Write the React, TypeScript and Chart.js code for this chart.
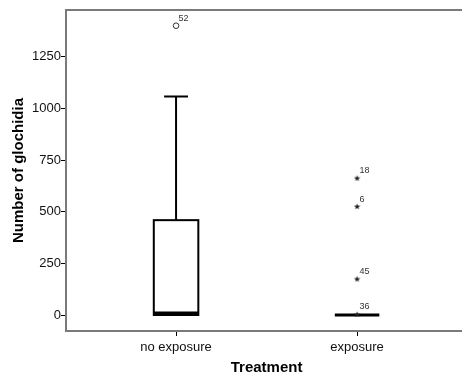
import React, { useEffect, useRef } from "react";
import { Chart, registerables } from "chart.js";

Chart.register(...registerables);

// ---- data ----
const categories = ["no exposure", "exposure"];
const whiskerLow = [0, 0];
const boxQ1 = [0, 0];
const boxMedian = [10, 0];
const boxQ3 = [459, 0];
const whiskerHigh = [1058, 0];

// outliers (circles) for "no exposure"
const outlierValues = [1400];
const outlierIds = ["52"];
// extremes (stars) for "exposure"
const extremeValues = [662, 525, 174, 3];
const extremeIds = ["18", "6", "45", "36"];

const yTicks = [0, 250, 500, 750, 1000, 1250];

const xTitle = "Treatment";
const yTitle = "Number of glochidia";

const FONT = "'Liberation Sans', Arial, sans-serif";

function makeStar(): HTMLCanvasElement {
  const c = document.createElement("canvas");
  c.width = 7;
  c.height = 7;
  const ctx = c.getContext("2d")!;
  ctx.fillStyle = "#222";
  ctx.beginPath();
  const cx = 3.5, cy = 3.7, ro = 3.3, ri = 1.4;
  for (let i = 0; i < 10; i++) {
    const r = i % 2 === 0 ? ro : ri;
    const a = -Math.PI / 2 + (i * Math.PI) / 5;
    const x = cx + r * Math.cos(a);
    const y = cy + r * Math.sin(a);
    if (i === 0) ctx.moveTo(x, y);
    else ctx.lineTo(x, y);
  }
  ctx.closePath();
  ctx.fill();
  return c;
}

const boxPlugin = {
  id: "boxPlugin",
  beforeDatasetsDraw(chart: any) {
    const { ctx, scales } = chart;
    const xs = scales.x;
    const ys = scales.y;
    const halfBox = 0.123;
    const halfCap = 0.066;
    ctx.save();
    categories.forEach((_, i) => {
      const xc = xs.getPixelForValue(i + 1);
      const xl = xs.getPixelForValue(i + 1 - halfBox);
      const xr = xs.getPixelForValue(i + 1 + halfBox);
      const cl = xs.getPixelForValue(i + 1 - halfCap);
      const cr = xs.getPixelForValue(i + 1 + halfCap);
      const yq1 = ys.getPixelForValue(boxQ1[i]);
      const yq3 = ys.getPixelForValue(boxQ3[i]);
      const ymed = ys.getPixelForValue(boxMedian[i]);
      const yhi = ys.getPixelForValue(whiskerHigh[i]);
      const ylo = ys.getPixelForValue(whiskerLow[i]);
      ctx.strokeStyle = "#000";
      ctx.lineWidth = 2;
      if (whiskerHigh[i] > boxQ3[i]) {
        ctx.beginPath();
        ctx.moveTo(xc, yq3);
        ctx.lineTo(xc, yhi);
        ctx.moveTo(cl, yhi);
        ctx.lineTo(cr, yhi);
        ctx.stroke();
      }
      if (whiskerLow[i] < boxQ1[i]) {
        ctx.beginPath();
        ctx.moveTo(xc, yq1);
        ctx.lineTo(xc, ylo);
        ctx.moveTo(cl, ylo);
        ctx.lineTo(cr, ylo);
        ctx.stroke();
      }
      if (boxQ3[i] > boxQ1[i]) {
        ctx.fillStyle = "#fff";
        ctx.fillRect(xl, yq3, xr - xl, yq1 - yq3);
        ctx.strokeRect(xl, yq3, xr - xl, yq1 - yq3);
      }
      ctx.lineWidth = 3;
      ctx.beginPath();
      ctx.moveTo(xl, ymed);
      ctx.lineTo(xr, ymed);
      ctx.stroke();
    });
    ctx.restore();
  },
  afterDraw(chart: any) {
    const { ctx, chartArea, scales } = chart;
    ctx.save();
    ctx.strokeStyle = "#7a7a7a";
    ctx.lineWidth = 2;
    ctx.beginPath();
    ctx.moveTo(chartArea.left - 1, chartArea.top);
    ctx.lineTo(chart.width, chartArea.top);
    ctx.moveTo(chartArea.left, chartArea.bottom);
    ctx.lineTo(chart.width, chartArea.bottom);
    ctx.stroke();
    // x axis title, centred between the categories
    const x1 = scales.x.getPixelForValue(1);
    const x2 = scales.x.getPixelForValue(categories.length);
    ctx.fillStyle = "#000";
    ctx.font = `bold 15px ${FONT}`;
    ctx.textAlign = "center";
    ctx.textBaseline = "middle";
    ctx.fillText(xTitle, (x1 + x2) / 2, chart.height - 6);
    // point labels
    ctx.fillStyle = "#333";
    ctx.font = `9px ${FONT}`;
    ctx.textAlign = "left";
    ctx.textBaseline = "middle";
    const idsets = [outlierIds, extremeIds];
    idsets.forEach((ids, di) => {
      const meta = chart.getDatasetMeta(di);
      meta.data.forEach((el: any, j: number) => {
        ctx.fillText(ids[j], el.x + 2.5, el.y - 7.5);
      });
    });
    ctx.restore();
  },
};

export default function App() {
  const ref = useRef<HTMLCanvasElement>(null);
  useEffect(() => {
    document.body.style.margin = "0";
    const star = makeStar();
    const chart = new Chart(ref.current!, {
      type: "scatter",
      data: {
        datasets: [
          {
            label: "outliers",
            data: outlierValues.map((v) => ({ x: 1, y: v })),
            pointStyle: "circle",
            pointRadius: 2.8,
            backgroundColor: "#fff",
            borderColor: "#333",
            borderWidth: 1,
          },
          {
            label: "extremes",
            data: extremeValues.map((v) => ({ x: 2, y: v })),
            pointStyle: star as any,
            pointRadius: 3,
          },
        ],
      },
      options: {
        animation: false,
        responsive: false,
        maintainAspectRatio: false,
        layout: { padding: { top: 10, right: 0, left: 0, bottom: 0 } },
        plugins: {
          legend: { display: false },
          tooltip: { enabled: false },
        },
        scales: {
          x: {
            type: "linear",
            min: 0.392,
            max: 2.552,
            afterBuildTicks: (s: any) => {
              s.ticks = categories.map((_, i) => ({ value: i + 1 }));
            },
            afterFit: (s: any) => {
              s.height = 43;
            },
            ticks: {
              callback: (v: any) => categories[Number(v) - 1] ?? "",
              color: "#111",
              font: { family: FONT, size: 13 },
              padding: 4,
              maxRotation: 0,
              autoSkip: false,
            },
            grid: {
              drawOnChartArea: false,
              drawTicks: true,
              tickLength: 5,
              color: "#000",
              lineWidth: 1,
            },
            border: { color: "#7a7a7a", width: 2 },
            title: { display: false },
          },
          y: {
            type: "linear",
            min: -77.4,
            max: 1476,
            afterBuildTicks: (s: any) => {
              s.ticks = yTicks.map((v) => ({ value: v }));
            },
            afterFit: (s: any) => {
              s.width = 66;
            },
            ticks: {
              callback: (v: any) => String(v),
              color: "#111",
              font: { family: FONT, size: 13 },
              padding: 0,
            },
            grid: {
              drawOnChartArea: false,
              drawTicks: true,
              tickLength: 5,
              color: "#000",
              lineWidth: 1,
            },
            border: { color: "#7a7a7a", width: 2 },
            title: {
              display: true,
              text: yTitle,
              color: "#000",
              font: { family: FONT, size: 15, weight: "bold", lineHeight: 1 },
              padding: { top: 11, bottom: 0 },
            },
          },
        },
      },
      plugins: [boxPlugin],
    });
    return () => chart.destroy();
  }, []);
  return (
    <canvas
      ref={ref}
      width={462}
      height={374}
      style={{ display: "block", width: 462, height: 374 }}
    />
  );
}
